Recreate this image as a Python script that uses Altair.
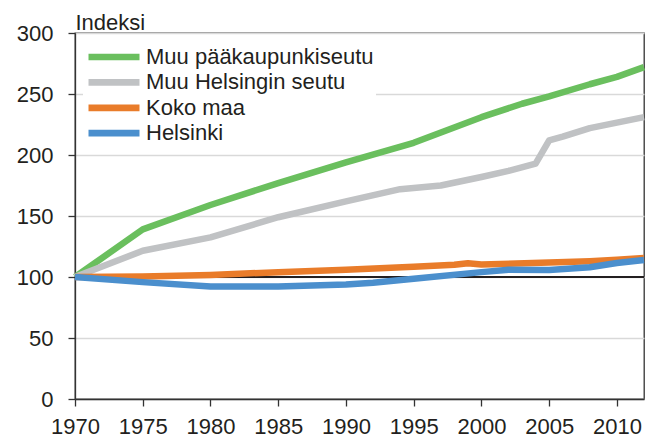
import altair as alt
import pandas as pd

# Series names and colours
series = ["Muu pääkaupunkiseutu", "Muu Helsingin seutu", "Koko maa", "Helsinki"]
colors = ["#6abf5e", "#c0c2c4", "#e97c2a", "#4b8fcd"]

# Muu pääkaupunkiseutu
green_years = [1970, 1975, 1980, 1985, 1990, 1995, 2000, 2003, 2005, 2008, 2010, 2012]
green_vals = [100, 139, 159, 177, 194, 210, 231, 242, 248, 258, 264, 272]

# Muu Helsingin seutu
gray_years = [1970, 1975, 1980, 1985, 1990, 1994, 1997, 2000, 2002, 2004, 2005, 2006, 2008, 2010, 2012]
gray_vals = [100, 121.5, 132.5, 149, 162, 172, 175, 182, 187, 193, 212, 215, 222, 226.5, 231]

# Koko maa
orange_years = [1970, 1975, 1980, 1985, 1990, 1995, 1998, 1999, 2000, 2005, 2008, 2010, 2012]
orange_vals = [100, 100.4, 101.7, 103.9, 106, 108.5, 110, 111.3, 110.3, 111.8, 113, 114.2, 115.5]

# Helsinki
blue_years = [1970, 1975, 1980, 1985, 1990, 1992, 1995, 2000, 2002, 2005, 2008, 2010, 2012]
blue_vals = [100, 95.8, 92.2, 92.2, 93.8, 95.3, 98.5, 104, 106, 105.8, 108, 111.5, 114]

x_ticks = [1970, 1975, 1980, 1985, 1990, 1995, 2000, 2005, 2010]
y_ticks = [0, 50, 100, 150, 200, 250, 300]

rows = []
for name, yrs, vals in zip(series,
                           [green_years, gray_years, orange_years, blue_years],
                           [green_vals, gray_vals, orange_vals, blue_vals]):
    for yr, v in zip(yrs, vals):
        rows.append({"Vuosi": yr, "Indeksi": v, "Sarja": name})
df = pd.DataFrame(rows)

FONT = "Liberation Sans"
TXT = "#231f20"

x_enc = alt.X("Vuosi:Q",
              scale=alt.Scale(domain=[1970, 2012], nice=False, zero=False),
              axis=alt.Axis(values=x_ticks, format="d", title=None, grid=False,
                            tickSize=7, labelPadding=10, labelFlush=False))
y_enc = alt.Y("Indeksi:Q",
              scale=alt.Scale(domain=[0, 300], nice=False),
              axis=alt.Axis(values=y_ticks, title="Indeksi", titleAngle=0,
                            titleX=0, titleY=-4, titleAlign="left",
                            titleBaseline="alphabetic", grid=True,
                            tickSize=7, labelPadding=15))

rule = alt.Chart(pd.DataFrame({"Indeksi": [100]})).mark_rule(
    color=TXT, strokeWidth=1.9
).encode(y=alt.Y("Indeksi:Q", scale=alt.Scale(domain=[0, 300], nice=False)))

lines = alt.Chart(df).mark_line(strokeWidth=6.5, strokeJoin="round").encode(
    x=x_enc,
    y=y_enc,
    color=alt.Color("Sarja:N",
                    scale=alt.Scale(domain=series, range=colors),
                    legend=alt.Legend(orient="none", legendX=8, legendY=11,
                                      title=None, symbolType="stroke",
                                      symbolSize=2600, symbolStrokeWidth=6.7,
                                      labelFontSize=22, labelFont=FONT,
                                      labelColor=TXT, labelOffset=3,
                                      clipHeight=22, rowPadding=3.4,
                                      padding=2, fillColor="white",
                                      labelLimit=400)),
    order=alt.Order("Vuosi:Q"),
)

chart = alt.layer(rule, lines).properties(
    width=569, height=366,
    autosize=alt.AutoSizeParams(type="none"),
    padding={"left": 67, "top": 25, "right": 4, "bottom": 40},
).configure_view(
    stroke="#333333", strokeWidth=1.3
).configure_axis(
    labelFont=FONT, labelFontSize=22, labelColor=TXT,
    titleFont=FONT, titleFontSize=22, titleColor=TXT, titleFontWeight="normal",
    domainColor="#333333", domainWidth=1.3,
    tickColor="#333333", tickWidth=1.3,
    gridColor="#d9d9d9", gridWidth=1.3,
)

chart.save("out.html", embed_options={"renderer": "svg", "actions": False})
